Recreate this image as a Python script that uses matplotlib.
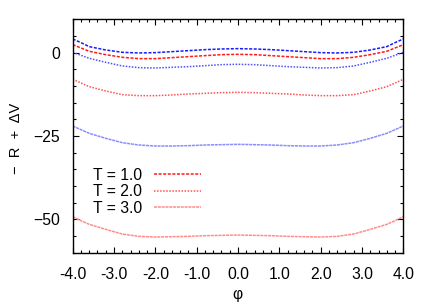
import matplotlib
matplotlib.use("Agg")
import matplotlib.pyplot as plt
from matplotlib.ticker import MultipleLocator, FormatStrFormatter

plt.rcParams['font.family'] = ['Liberation Sans', 'DejaVu Sans']

phi = [-4.0, -3.8, -3.6, -3.2, -2.8, -2.4, -2.0, -1.6, -1.2, -0.8, -0.4, 0.0,
       0.4, 0.8, 1.2, 1.6, 2.0, 2.4, 2.8, 3.2, 3.6, 3.8, 4.0]

red_T1 = [2.4, 1.4, 0.4, -0.6, -1.4, -1.8, -1.8, -1.5, -1.2, -0.9, -0.6, -0.5,
          -0.6, -0.9, -1.2, -1.5, -1.8, -1.8, -1.4, -0.6, 0.4, 1.4, 2.4]
red_T2 = [-8.0, -9.1, -10.2, -11.5, -12.6, -12.9, -12.9, -12.7, -12.4, -12.2, -12.0, -11.9,
          -12.0, -12.2, -12.4, -12.7, -12.9, -12.9, -12.6, -11.5, -10.2, -9.1, -8.0]
red_T3 = [-49.2, -50.4, -51.5, -53.0, -54.4, -55.1, -55.3, -55.2, -55.1, -54.9, -54.8, -54.7,
          -54.8, -54.9, -55.1, -55.2, -55.3, -55.1, -54.4, -53.0, -51.5, -50.4, -49.2]
blue_T1 = [4.1, 3.0, 1.8, 0.8, 0.1, -0.1, 0.0, 0.3, 0.6, 0.9, 1.1, 1.2,
           1.1, 0.9, 0.6, 0.3, 0.0, -0.1, 0.1, 0.8, 1.8, 3.0, 4.1]
blue_T2 = [0.1, -0.8, -1.7, -2.9, -4.0, -4.5, -4.6, -4.4, -4.2, -3.9, -3.6, -3.5,
           -3.6, -3.9, -4.2, -4.4, -4.6, -4.5, -4.0, -2.9, -1.7, -0.8, 0.1]
blue_T3 = [-22.0, -23.1, -24.2, -25.7, -27.0, -27.7, -28.0, -28.0, -27.9, -27.7, -27.6, -27.5,
           -27.6, -27.7, -27.9, -28.0, -28.0, -27.7, -27.0, -25.7, -24.2, -23.1, -22.0]

labels = ["T = 1.0", "T = 2.0", "T = 3.0"]
xticks = [-4.0, -3.0, -2.0, -1.0, 0.0, 1.0, 2.0, 3.0, 4.0]
yticks = [0, -25, -50]

fig = plt.figure(figsize=(4.31, 3.02), dpi=100)
ax = fig.add_axes([72.7/431, 1 - 252.7/302, 330.6/431, 233.4/302])

styles = [(0, (2, 1)), (0, (1, 1)), (0, (2, 0.5))]
reds = ['#ff1a1a', '#ff5050', '#ff8c8c']
blues = ['#1a1aff', '#5050ff', '#8c8cff']

for ys, c, ls, lab in zip([red_T1, red_T2, red_T3], reds, styles, labels):
    ax.plot(phi, ys, color=c, linestyle=ls, linewidth=1.1, label=lab)
for ys, c, ls in zip([blue_T1, blue_T2, blue_T3], blues, styles):
    ax.plot(phi, ys, color=c, linestyle=ls, linewidth=1.1)

ax.set_xlim(-4, 4)
ax.set_ylim(-60, 10)
ax.set_xticks(xticks)
ax.set_yticks(yticks)
ax.xaxis.set_major_formatter(FormatStrFormatter('%.1f'))
ax.xaxis.set_minor_locator(MultipleLocator(0.2))
ax.yaxis.set_minor_locator(MultipleLocator(5))
ax.tick_params(which='both', direction='in', top=True, right=True, labelsize=11.3)
ax.tick_params(which='major', length=4, width=0.8)
ax.tick_params(which='minor', length=2.5, width=0.8)
ax.tick_params(axis='x', pad=10)
ax.tick_params(axis='y', pad=9)
for s in ax.spines.values():
    s.set_linewidth(1.0)

ax.set_xlabel("φ", fontsize=11.3)
ax.xaxis.set_label_coords((237.3 - 72.7)/330.6, -(295 - 252.7)/233.4, transform=ax.transAxes)
ax.xaxis.label.set_va('center')
ax.set_ylabel("−  R  +  ΔV", fontsize=10.5)
ax.yaxis.set_label_coords(-(72.7 - 16)/330.6, (252.7 - 138)/233.4, transform=ax.transAxes)
ax.yaxis.label.set_va('center')

leg = ax.legend(loc='upper left', bbox_to_anchor=(0.06, 0.364), frameon=False,
                markerfirst=False, fontsize=11.3, handlelength=3.0, handletextpad=0.8,
                labelspacing=0.1, borderpad=0.0, borderaxespad=0.0)

fig.savefig("out.png", dpi=100)
